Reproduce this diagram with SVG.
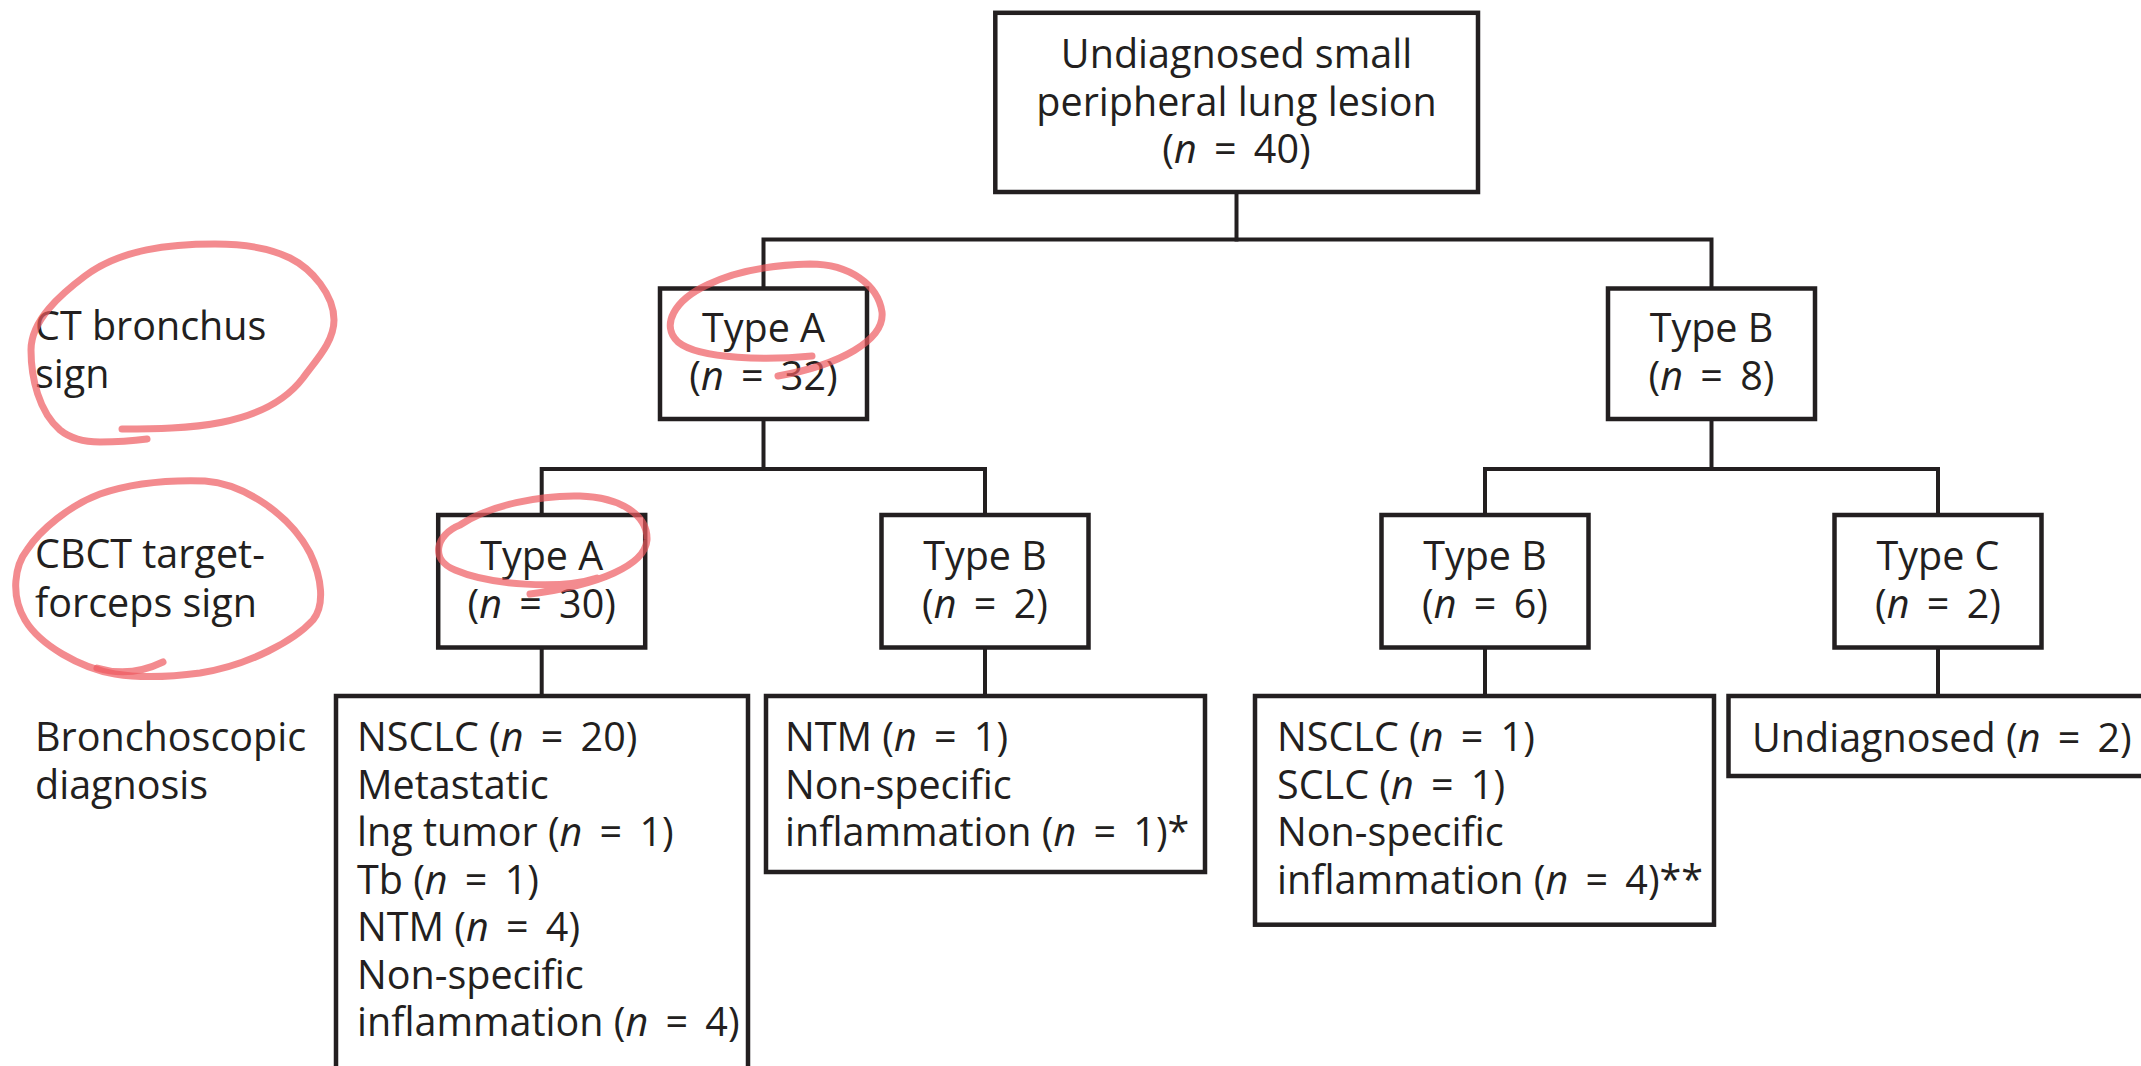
<svg xmlns="http://www.w3.org/2000/svg" width="2141" height="1066" viewBox="0 0 2141 1066">
<style>
.box{fill:#ffffff;stroke:#231f20;stroke-width:4.5}
.t{font-family:"Open Sans","Noto Sans","Liberation Sans",sans-serif;font-size:39.5px;fill:#231f20}
.c{text-anchor:middle}
.i{font-style:italic}
.eq{word-spacing:7px}
.conn{fill:none;stroke:#231f20;stroke-width:4;stroke-linejoin:miter;stroke-linecap:square}
.mark{fill:none;stroke:#ee5a60;stroke-opacity:0.7;stroke-width:7;stroke-linecap:round;stroke-linejoin:round}
</style>
<rect x="0" y="0" width="2141" height="1066" fill="#ffffff"/>

<g id="connectors">
<path class="conn" d="M1236.5 192 V239.5"/>
<path class="conn" d="M763.5 288.5 V239.5 H1711.5 V288.5"/>
<path class="conn" d="M763.5 419 V469"/>
<path class="conn" d="M541.7 515 V469 H985 V515"/>
<path class="conn" d="M1711.5 419 V469"/>
<path class="conn" d="M1485 515 V469 H1938 V515"/>
<path class="conn" d="M541.7 647.5 V696"/>
<path class="conn" d="M985 647.5 V696"/>
<path class="conn" d="M1485 647.5 V696"/>
<path class="conn" d="M1938 647.5 V696"/>
</g>

<g id="row-labels">
<text class="t" x="35" y="340">CT bronchus</text>
<text class="t" x="35" y="388">sign</text>
<text class="t" x="35" y="568">CBCT target-</text>
<text class="t" x="35" y="616.5">forceps sign</text>
<text class="t" x="35" y="751">Bronchoscopic</text>
<text class="t" x="35" y="798.5">diagnosis</text>
</g>

<g id="root">
<rect class="box" x="995.3" y="12.8" width="482.7" height="179.2"/>
<text class="t c" x="1236.5" y="68">Undiagnosed small</text>
<text class="t c" x="1236.5" y="115.5">peripheral lung lesion</text>
<text class="t c" x="1236.5" y="163">(<tspan class="i">n</tspan><tspan class="eq"> = </tspan>40)</text>
</g>

<g id="ct-typeA">
<rect class="box" x="660" y="288.5" width="207" height="130.5"/>
<text class="t c" x="763.5" y="342">Type A</text>
<text class="t c" x="763.5" y="390">(<tspan class="i">n</tspan><tspan class="eq"> = </tspan>32)</text>
</g>

<g id="ct-typeB">
<rect class="box" x="1608" y="288.5" width="207" height="130.5"/>
<text class="t c" x="1711.5" y="342">Type B</text>
<text class="t c" x="1711.5" y="390">(<tspan class="i">n</tspan><tspan class="eq"> = </tspan>8)</text>
</g>

<g id="cbct-typeA">
<rect class="box" x="438.2" y="515" width="207" height="132.5"/>
<text class="t c" x="541.7" y="570">Type A</text>
<text class="t c" x="541.7" y="618">(<tspan class="i">n</tspan><tspan class="eq"> = </tspan>30)</text>
</g>

<g id="cbct-typeB-left">
<rect class="box" x="881.5" y="515" width="207" height="132.5"/>
<text class="t c" x="985" y="570">Type B</text>
<text class="t c" x="985" y="618">(<tspan class="i">n</tspan><tspan class="eq"> = </tspan>2)</text>
</g>

<g id="cbct-typeB-right">
<rect class="box" x="1381.5" y="515" width="207" height="132.5"/>
<text class="t c" x="1485" y="570">Type B</text>
<text class="t c" x="1485" y="618">(<tspan class="i">n</tspan><tspan class="eq"> = </tspan>6)</text>
</g>

<g id="cbct-typeC">
<rect class="box" x="1834.5" y="515" width="207" height="132.5"/>
<text class="t c" x="1938" y="570">Type C</text>
<text class="t c" x="1938" y="618">(<tspan class="i">n</tspan><tspan class="eq"> = </tspan>2)</text>
</g>

<g id="dx-1">
<rect class="box" x="336" y="696" width="412" height="420"/>
<text class="t" x="357" y="751">NSCLC (<tspan class="i">n</tspan><tspan class="eq"> = </tspan>20)</text>
<text class="t" x="357" y="798.5">Metastatic</text>
<text class="t" x="357" y="846">lng tumor (<tspan class="i">n</tspan><tspan class="eq"> = </tspan>1)</text>
<text class="t" x="357" y="893.5">Tb (<tspan class="i">n</tspan><tspan class="eq"> = </tspan>1)</text>
<text class="t" x="357" y="941">NTM (<tspan class="i">n</tspan><tspan class="eq"> = </tspan>4)</text>
<text class="t" x="357" y="988.5">Non-specific</text>
<text class="t" x="357" y="1036">inflammation (<tspan class="i">n</tspan><tspan class="eq"> = </tspan>4)</text>
</g>

<g id="dx-2">
<rect class="box" x="766" y="696" width="439" height="176"/>
<text class="t" x="785" y="751">NTM (<tspan class="i">n</tspan><tspan class="eq"> = </tspan>1)</text>
<text class="t" x="785" y="798.5">Non-specific</text>
<text class="t" x="785" y="846">inflammation (<tspan class="i">n</tspan><tspan class="eq"> = </tspan>1)*</text>
</g>

<g id="dx-3">
<rect class="box" x="1255" y="696" width="459" height="228.7"/>
<text class="t" x="1277" y="751">NSCLC (<tspan class="i">n</tspan><tspan class="eq"> = </tspan>1)</text>
<text class="t" x="1277" y="798.5">SCLC (<tspan class="i">n</tspan><tspan class="eq"> = </tspan>1)</text>
<text class="t" x="1277" y="846">Non-specific</text>
<text class="t" x="1277" y="893.5">inflammation (<tspan class="i">n</tspan><tspan class="eq"> = </tspan>4)**</text>
</g>

<g id="dx-4">
<rect class="box" x="1728.5" y="696" width="440" height="80"/>
<text class="t" x="1752" y="751.5">Undiagnosed (<tspan class="i">n</tspan><tspan class="eq"> = </tspan>2)</text>
</g>

<g id="annotations">
<path class="mark" d="M122 429 C185 429 265 428 303 378 C316 360 334 342 334 320 C334 295 312 269 290 258 C268 247 240 244 215 244 C170 244 121 249 85 276 C61 294 31 320 31 350 C31 378 39 412 60 430 C71 439 86 442 100 442 C115 442 132 441 147 439"/>
<path class="mark" d="M205 481 C245 484 290 515 310 553 C322 578 325 605 313 620 C295 640 250 665 200 673 C170 677 140 678 115 674 C80 668 40 645 25 620 C10 595 15 565 27 550 C40 530 70 505 100 494 C135 482 175 480 205 481"/>
<path class="mark" d="M97 668 Q130 678 163 662"/>
<path class="mark" d="M812 356 C770 360 700 360 678 342 C660 325 675 300 707 285 C735 271 770 265 810 264 C850 264 878 285 882 312 C885 340 840 365 778 376"/>
<path class="mark" d="M597 578 C560 590 490 585 455 570 C430 560 435 535 460 525 C490 505 540 495 580 496 C620 497 648 515 647 540 C645 565 600 585 530 594"/>
</g>
</svg>
